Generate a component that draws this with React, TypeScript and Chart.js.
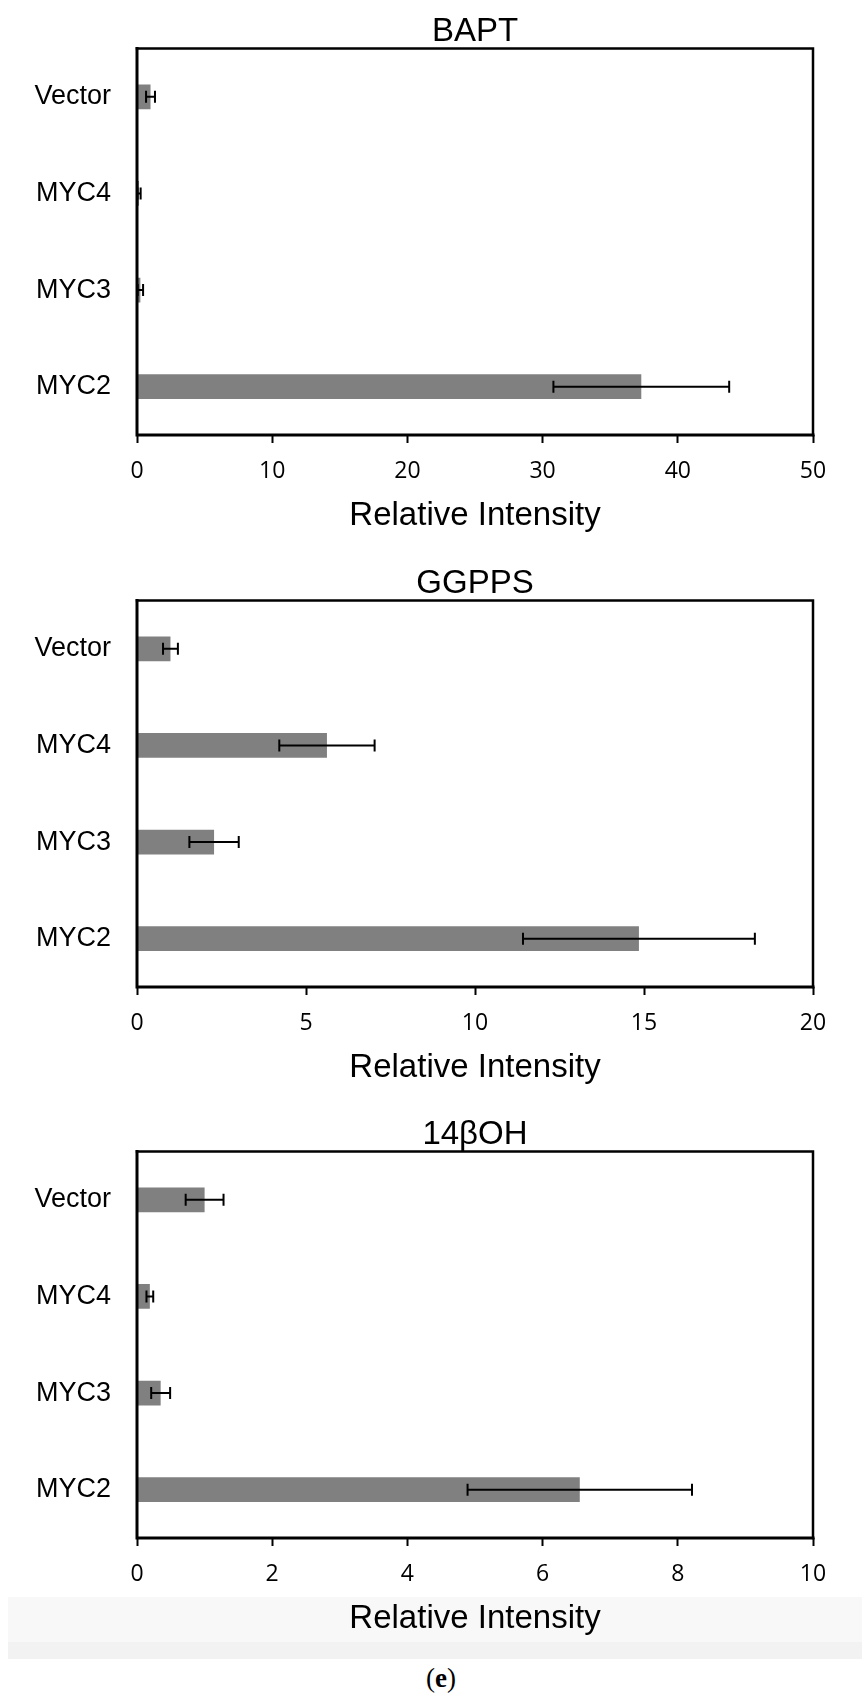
import React, { useEffect, useRef } from "react";
import { Chart, registerables } from "chart.js";

Chart.register(...registerables);

// ---- data ----
const categories = ["Vector", "MYC4", "MYC3", "MYC2"];

const baptTitle = "BAPT";
const baptValues = [1.0, 0.15, 0.25, 37.3];
const baptErrors = [0.33, 0.12, 0.2, 6.5];
const baptMax = 50;
const baptStep = 10;

const ggppsTitle = "GGPPS";
const ggppsValues = [0.99, 5.62, 2.28, 14.85];
const ggppsErrors = [0.22, 1.41, 0.73, 3.43];
const ggppsMax = 20;
const ggppsStep = 5;

const ohTitle = "14βOH";
const ohValues = [1.0, 0.19, 0.35, 6.55];
const ohErrors = [0.28, 0.05, 0.14, 1.66];
const ohMax = 10;
const ohStep = 2;

const axisTitle = "Relative Intensity";
const panelLabel = "e";

const CANVAS_W = 862;
const CANVAS_H = 540;

type PanelProps = {
  title: string;
  values: number[];
  errors: number[];
  max: number;
  step: number;
  top: number;
};

function Panel({ title, values, errors, max, step, top }: PanelProps) {
  const ref = useRef<HTMLCanvasElement | null>(null);

  useEffect(() => {
    if (!ref.current) return;

    const errorBars = {
      id: "errorBars",
      afterDatasetsDraw(chart: any) {
        const meta = chart.getDatasetMeta(0);
        const xs = chart.scales.x;
        const ctx = chart.ctx;
        ctx.save();
        ctx.strokeStyle = "#000";
        ctx.lineWidth = 2;
        meta.data.forEach((bar: any, i: number) => {
          const v = values[i];
          const y = bar.y;
          const x1 = xs.getPixelForValue(v - errors[i]);
          const x2 = xs.getPixelForValue(v + errors[i]);
          ctx.beginPath();
          ctx.moveTo(x1, y);
          ctx.lineTo(x2, y);
          ctx.moveTo(x1, y - 6);
          ctx.lineTo(x1, y + 6);
          ctx.moveTo(x2, y - 6);
          ctx.lineTo(x2, y + 6);
          ctx.stroke();
        });
        ctx.restore();
      },
    };

    const frame = {
      id: "frame",
      afterDraw(chart: any) {
        const { left, right, top: t, bottom } = chart.chartArea;
        const ctx = chart.ctx;
        ctx.save();
        ctx.strokeStyle = "#000";
        ctx.lineCap = "square";
        ctx.lineWidth = 2.5;
        ctx.beginPath();
        ctx.moveTo(left, t);
        ctx.lineTo(right, t);
        ctx.lineTo(right, bottom);
        ctx.stroke();
        ctx.lineWidth = 3;
        ctx.beginPath();
        ctx.moveTo(left, t);
        ctx.lineTo(left, bottom);
        ctx.lineTo(right, bottom);
        ctx.stroke();
        ctx.restore();
      },
    };

    const chart = new Chart(ref.current, {
      type: "bar",
      data: {
        labels: categories,
        datasets: [
          {
            data: values,
            backgroundColor: "#808080",
            borderWidth: 0,
            categoryPercentage: 1,
            barPercentage: 0.255,
          },
        ],
      },
      options: {
        indexAxis: "y",
        animation: false,
        responsive: false,
        devicePixelRatio: 1,
        layout: { padding: { left: 0, right: 49, top: 0, bottom: 0 } },
        plugins: {
          legend: { display: false },
          tooltip: { enabled: false },
          title: {
            display: true,
            text: title,
            color: "#000",
            fullSize: false,
            font: { family: "'Liberation Sans', Arial, sans-serif", size: 33, weight: "normal", lineHeight: 1 },
            padding: { top: 15.5, bottom: 0 },
          },
        },
        scales: {
          x: {
            type: "linear",
            min: 0,
            max: max,
            afterFit: (s: any) => {
              s.height = 105;
            },
            ticks: {
              stepSize: step,
              color: "#000",
              padding: 15,
              font: { family: "'Open Sans', sans-serif", size: 23, lineHeight: 1.2 },
            },
            grid: {
              drawOnChartArea: false,
              drawTicks: true,
              tickLength: 8,
              tickColor: "#000",
              tickWidth: 2,
            },
            border: { display: false },
            title: {
              display: true,
              text: axisTitle,
              color: "#000",
              font: { family: "'Liberation Sans', Arial, sans-serif", size: 33, lineHeight: 1.2 },
              padding: { top: 0, bottom: 4 },
            },
          },
          y: {
            type: "category",
            afterFit: (s: any) => {
              s.width = 137;
            },
            ticks: {
              color: "#000",
              padding: 26,
              font: { family: "'Liberation Sans', Arial, sans-serif", size: 27, lineHeight: 1.2 },
            },
            grid: { display: false, drawTicks: false },
            border: { display: false },
          },
        },
      },
      plugins: [errorBars, frame],
    } as any);

    return () => chart.destroy();
  }, [title, values, errors, max, step]);

  return (
    <canvas
      ref={ref}
      width={CANVAS_W}
      height={CANVAS_H}
      style={{
        position: "absolute",
        left: 0,
        top: top,
        width: CANVAS_W,
        height: CANVAS_H,
        zIndex: 2,
      }}
    />
  );
}

export default function App() {
  return (
    <div style={{ position: "absolute", left: 0, top: 0, width: 862, height: 1693, background: "#fff", overflow: "hidden" }}>
      <div style={{ position: "absolute", left: 8, top: 1597, width: 854, height: 45, background: "#f8f8f8", zIndex: 1 }} />
      <div style={{ position: "absolute", left: 8, top: 1642, width: 854, height: 17, background: "#f2f2f2", zIndex: 1 }} />
      <Panel title={baptTitle} values={baptValues} errors={baptErrors} max={baptMax} step={baptStep} top={0} />
      <Panel title={ggppsTitle} values={ggppsValues} errors={ggppsErrors} max={ggppsMax} step={ggppsStep} top={552} />
      <Panel title={ohTitle} values={ohValues} errors={ohErrors} max={ohMax} step={ohStep} top={1103} />
      <div
        style={{
          position: "absolute",
          left: 0,
          top: 1663,
          width: 882,
          textAlign: "center",
          fontFamily: "'Liberation Serif', 'DejaVu Serif', serif",
          fontSize: 27,
          lineHeight: "30px",
          color: "#000",
          zIndex: 3,
        }}
      >
        (<span style={{ fontWeight: "bold" }}>{panelLabel}</span>)
      </div>
    </div>
  );
}
